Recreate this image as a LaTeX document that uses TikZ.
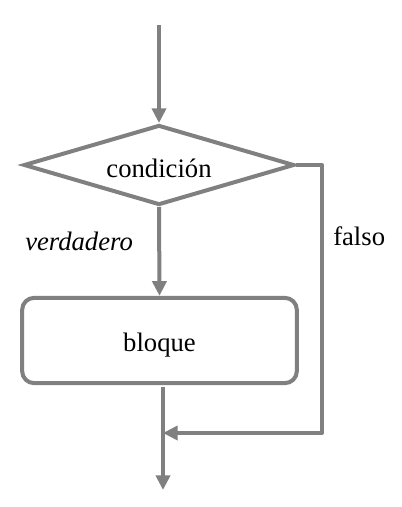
\documentclass[tikz,border=0pt]{standalone}
\usepackage{fontspec}
\setmainfont{Liberation Serif}
\usetikzlibrary{shapes.geometric,arrows.meta}
\definecolor{linegray}{HTML}{808080}
\begin{document}
\begin{tikzpicture}[x=0.75pt,y=-0.75pt,
  every node/.style={font=\fontsize{20}{24}\selectfont},
  conn/.style={draw=linegray,line width=3pt,-{Triangle[length=11pt,width=10.5pt]}},
  plain/.style={draw=linegray,line width=3pt},
  decision/.style={diamond,shape aspect=3.39,draw=linegray,line width=3pt,inner sep=0pt,minimum width=203pt,minimum height=60pt,text height=18pt,text depth=0pt},
  process/.style={rectangle,rounded corners=9pt,draw=linegray,line width=3pt,inner sep=0pt,minimum width=206pt,minimum height=64pt,text height=17pt,text depth=0pt},
  lbl/.style={inner sep=0pt}]
\useasboundingbox (0,0) rectangle (401,507);
\coordinate (start) at (159,25);
\node[decision] (cond) at (159,165) {condición};
\node[process] (blk) at (159.5,340.5) {bloque};
\coordinate (r1) at (322,165);
\coordinate (r2) at (322,433);
\coordinate (join) at (163,433);
\coordinate (bstart) at (163,387);
\coordinate (end) at (163,490);
\draw[conn] (start) -- (cond.north);
\draw[conn] (cond.south) -- (blk.north);
\draw[plain,line join=round] (cond.east) -- (r1) -- (r2) -- ([xshift=3pt]join);
\draw[conn] (r2) -- (join);
\draw[conn] (bstart) -- (end);
\node[lbl,font=\fontsize{20}{24}\selectfont\itshape,anchor=base west] (vlab) at (25,250) {verdadero};
\node[lbl,anchor=base west] (flab) at (333,245) {falso};
\end{tikzpicture}
\end{document}
